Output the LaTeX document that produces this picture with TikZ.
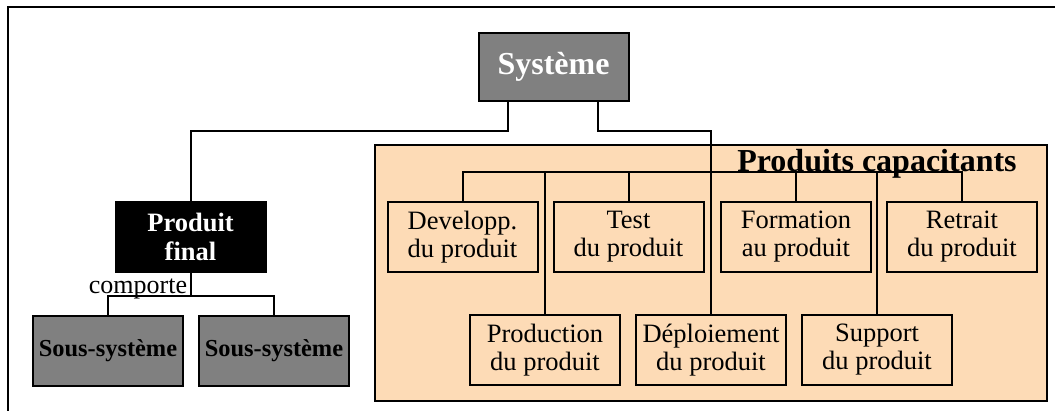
\documentclass[tikz,border=0pt]{standalone}
\usepackage{fontspec}
\setmainfont{Liberation Serif}
\usetikzlibrary{positioning}
\definecolor{boxgray}{RGB}{128,128,128}
\definecolor{peach}{RGB}{253,219,182}
\tikzset{
	sysbox/.style={draw, rectangle, line width=1pt, inner sep=0pt, minimum width=75pt, minimum height=34pt, align=center, fill=boxgray, text=white, font=\fontsize{16}{18}\selectfont\bfseries},
	finalbox/.style={draw, rectangle, line width=1pt, inner sep=0pt, minimum width=75pt, minimum height=35pt, align=center, fill=black, text=white, font=\fontsize{13.25}{14.5}\selectfont\bfseries},
	subbox/.style={draw, rectangle, line width=1pt, inner sep=0pt, minimum width=75pt, minimum height=35pt, align=center, fill=boxgray, font=\fontsize{12.2}{14}\selectfont\bfseries},
	enabler/.style={draw, rectangle, line width=1pt, inner sep=0pt, minimum width=75pt, minimum height=35pt, align=center, fill=peach, font=\fontsize{13.25}{14}\selectfont},
	% the orange area behind the enabling products
	area/.style={draw, rectangle, line width=0.8pt, inner sep=0pt, fill=peach},
}

\begin{document}
\begin{tikzpicture}[node distance=83pt]
		\useasboundingbox (0,0) rectangle (527.5pt,-205.5pt);
		\draw[line width=1pt] (4pt,-205.5pt) -- (4pt,-3.5pt) -- (527.5pt,-3.5pt);
		
		\node (panel) [area, minimum width=336pt, minimum height=128pt] at (355.5pt,-136.5pt) {};
		\node (title) [anchor=base, inner sep=0pt, font=\fontsize{16}{18}\selectfont\bfseries] at ([xshift=83pt, yshift=-13.5pt]panel.north) {Produits capacitants};
		
		\node (sys) [sysbox] at (276.75pt,-33.5pt) {Système};
		
		\node (final) [finalbox, below of=sys, xshift=-181.5pt, yshift=-2pt] {Produit\\final};
		\node (sub1) [subbox, below of=final, xshift=-41.25pt, yshift=26pt] {Sous-système};
		\node (sub2) [subbox, right of=sub1] {Sous-système};
		
		\node (dev) [enabler, right of=final, xshift=53pt] {Developp.\\du produit};
		\node (test) [enabler, right of=dev] {Test\\du produit};
		\node (form) [enabler, right of=test, xshift=0.75pt] {Formation\\au produit};
		\node (retr) [enabler, right of=form] {Retrait\\du produit};
		
		\node (prod) [enabler, below of=dev, xshift=41.25pt, yshift=26.5pt] {Production\\du produit};
		\node (depl) [enabler, right of=prod] {Déploiement\\du produit};
		\node (supp) [enabler, right of=depl] {Support\\du produit};
		
		\begin{scope}[line width=1pt, black]
			\draw ([xshift=-22.75pt]sys.south) -- ++(0,-14.5pt) -| (final.north);
			\draw ([xshift=22.25pt]sys.south) -- ++(0,-14.5pt) -| (depl.north);
			
			\draw (dev.north) -- ++(0,14.5pt) coordinate (bus) -| (retr.north);
			\draw (test.north) -- (test.north |- bus);
			\draw (form.north) -- (form.north |- bus);
			\draw (prod.north) -- (prod.north |- bus);
			\draw (supp.north) -- (supp.north |- bus);
			
			\draw (final.south) -- ++(0,-11.5pt) coordinate (split);
			\draw (sub1.north) |- (split) -| (sub2.north);
		\end{scope}
		
		\node (comp) [anchor=base east, inner sep=0pt, font=\fontsize{13}{14}\selectfont] at ([xshift=-1.5pt, yshift=-10.5pt]final.south) {comporte};
	\end{tikzpicture}
\end{document}
